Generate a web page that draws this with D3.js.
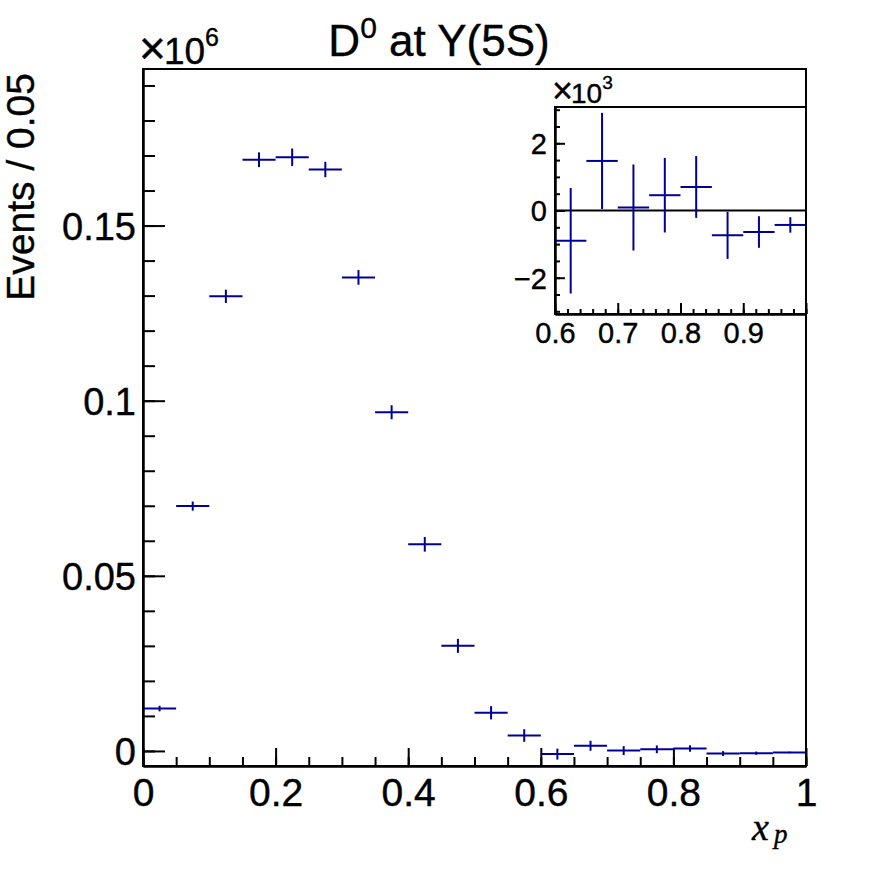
<!DOCTYPE html>
<html>
<head>
<meta charset="utf-8">
<script src="https://cdn.jsdelivr.net/npm/d3@7"></script>
<style>
  body { margin: 0; background: #fff; }
  text { font-family: "Liberation Sans", Arial, sans-serif; fill: #000; stroke: #000; stroke-width: 0.4px; }
  .axis path, .axis line { stroke: #000; stroke-width: 2; }
</style>
</head>
<body>
<script>
// bin centres of x_p (width 0.05)
var binCenters = [0.025, 0.075, 0.125, 0.175, 0.225, 0.275, 0.325, 0.375, 0.425, 0.475,
                  0.525, 0.575, 0.625, 0.675, 0.725, 0.775, 0.825, 0.875, 0.925, 0.975];
// events per bin and their errors
var binValues = [12100, 69900, 129800, 168800, 169500, 166000, 135200, 96700, 59000, 30000,
                 10900, 4400, -900, 1475, 90, 455, 700, -740, -640, -430];
var binErrors = [800, 1300, 1900, 2100, 2500, 2200, 2100, 2000, 2100, 2000,
                 1900, 1800, 1570, 1430, 1280, 1110, 920, 700, 470, 230];
var binWidth = 0.05;

var mainXTicks = [0, 0.2, 0.4, 0.6, 0.8, 1];
var mainYTicks = [0, 50000, 100000, 150000];
var insetXTicks = [0.6, 0.7, 0.8, 0.9];
var insetYTicks = [-2000, 0, 2000];

var data = binCenters.map(function(c, i) {
  return { x: c, y: binValues[i], e: binErrors[i] };
});

var width = 896,
    height = 872;

var svg = d3.select("body").append("svg")
    .attr("width", width)
    .attr("height", height);

var blue = "#000099";

// ---------- main frame ----------
var fx0 = 143, fx1 = 806, fy0 = 69, fy1 = 766;

var x = d3.scaleLinear().domain([0, 1]).range([fx0, fx1]);
var y = d3.scaleLinear().domain([-4300, 194700]).range([fy1, fy0]);

function fmtMain(d) { return d === 0 ? "0" : String(+(d / 1e6).toFixed(2)); }

// minor ticks
svg.append("g")
    .attr("class", "axis")
    .attr("transform", "translate(0," + fy1 + ")")
    .call(d3.axisBottom(x).tickValues(d3.range(0, 1.0001, 0.05)).tickSize(-9).tickSizeOuter(0).tickFormat(""));
svg.append("g")
    .attr("class", "axis")
    .attr("transform", "translate(" + fx0 + ",0)")
    .call(d3.axisLeft(y).tickValues(d3.range(0, 190001, 10000)).tickSize(-12).tickSizeOuter(0).tickFormat(""));

// major ticks + labels
var xAxis = svg.append("g")
    .attr("class", "axis")
    .attr("transform", "translate(0," + fy1 + ")")
    .call(d3.axisBottom(x).tickValues(mainXTicks).tickSize(-18).tickSizeOuter(0).tickPadding(12)
      .tickFormat(function(d) { return String(d); }));
xAxis.selectAll("text").style("font-size", "39px");

var yAxis = svg.append("g")
    .attr("class", "axis")
    .attr("transform", "translate(" + fx0 + ",0)")
    .call(d3.axisLeft(y).tickValues(mainYTicks).tickSize(-22).tickSizeOuter(0).tickPadding(7)
      .tickFormat(fmtMain));
yAxis.selectAll("text").style("font-size", "38px").attr("dy", "0.36em");

svg.selectAll(".axis text").attr("font-family", null);

// data points with error bars
var pts = svg.append("g")
    .attr("stroke", blue)
    .attr("stroke-width", 2)
    .selectAll("g")
    .data(data)
  .enter().append("g");

pts.append("line")
    .attr("x1", function(d) { return x(d.x - binWidth / 2); })
    .attr("x2", function(d) { return x(d.x + binWidth / 2); })
    .attr("y1", function(d) { return y(d.y); })
    .attr("y2", function(d) { return y(d.y); });
pts.append("line")
    .attr("x1", function(d) { return x(d.x); })
    .attr("x2", function(d) { return x(d.x); })
    .attr("y1", function(d) { return y(d.y - d.e); })
    .attr("y2", function(d) { return y(d.y + d.e); });

svg.append("rect")
    .attr("x", fx0).attr("y", fy0)
    .attr("width", fx1 - fx0).attr("height", fy1 - fy0)
    .attr("fill", "none").attr("stroke", "#000").attr("stroke-width", 2);

// exponent label
var expo = svg.append("text").attr("x", 139).attr("y", 63.5).style("font-size", "37px");
expo.append("tspan").style("font-size", "46px").text("\u00d7");
expo.append("tspan").attr("dx", -2).text("10");
expo.append("tspan").attr("dy", -18).style("font-size", "25px").text("6");

// title
var title = svg.append("text")
    .attr("x", 439).attr("y", 56)
    .attr("text-anchor", "middle")
    .style("font-size", "44px");
title.append("tspan").text("D");
title.append("tspan").attr("dy", -18).style("font-size", "30px").text("0");
title.append("tspan").attr("dy", 18).text(" at Y(5S)");

// axis titles
svg.append("text")
    .attr("transform", "translate(34,73) rotate(-90)")
    .attr("text-anchor", "end")
    .style("font-size", "39px")
    .text("Events / 0.05");

var xt = svg.append("text")
    .attr("x", 752).attr("y", 840)
    .style("font-family", "'Liberation Serif', 'Times New Roman', serif")
    .style("font-style", "italic")
    .style("font-size", "38px");
xt.append("tspan").text("x");
xt.append("tspan").attr("dx", 5).attr("dy", 3).style("font-size", "27px").text("p");

// ---------- inset ----------
var ix0 = 555, ix1 = 806, iy0 = 107, iy1 = 314;

var ix = d3.scaleLinear().domain([0.6, 1.0]).range([ix0, ix1]);
var iy = d3.scaleLinear().domain([-3080, 3080]).range([iy1, iy0]);

var inset = svg.append("g");

inset.append("rect")
    .attr("x", ix0).attr("y", iy0)
    .attr("width", ix1 - ix0).attr("height", iy1 - iy0)
    .attr("fill", "#fff");

inset.append("g")
    .attr("class", "axis")
    .attr("transform", "translate(0," + iy1 + ")")
    .call(d3.axisBottom(ix).tickValues(d3.range(0.6, 1.0001, 0.02)).tickSize(-5).tickSizeOuter(0).tickFormat(""));
inset.append("g")
    .attr("class", "axis")
    .attr("transform", "translate(" + ix0 + ",0)")
    .call(d3.axisLeft(iy).tickValues(d3.range(-3000, 3001, 500)).tickSize(-5).tickSizeOuter(0).tickFormat(""));

var ixAxis = inset.append("g")
    .attr("class", "axis")
    .attr("transform", "translate(0," + iy1 + ")")
    .call(d3.axisBottom(ix).tickValues(insetXTicks.concat([1.0])).tickSize(-11).tickSizeOuter(0).tickPadding(8)
      .tickFormat(function(d) { return d === 1 ? "" : d.toFixed(1); }));
ixAxis.selectAll("text").style("font-size", "29px");

var iyAxis = inset.append("g")
    .attr("class", "axis")
    .attr("transform", "translate(" + ix0 + ",0)")
    .call(d3.axisLeft(iy).tickValues(insetYTicks).tickSize(-10).tickSizeOuter(0).tickPadding(8)
      .tickFormat(function(d) { return d < 0 ? "\u2212" + (-d / 1000) : String(d / 1000); }));
iyAxis.selectAll("text").style("font-size", "29px").attr("dy", "0.36em");

inset.selectAll(".axis text").attr("font-family", null);

// zero line
inset.append("line")
    .attr("x1", ix0).attr("x2", ix1)
    .attr("y1", iy(0)).attr("y2", iy(0))
    .attr("stroke", "#000").attr("stroke-width", 2);

var ipts = inset.append("g")
    .attr("stroke", blue)
    .attr("stroke-width", 2)
    .selectAll("g")
    .data(data.filter(function(d) { return d.x > 0.6; }))
  .enter().append("g");

ipts.append("line")
    .attr("x1", function(d) { return ix(d.x - binWidth / 2); })
    .attr("x2", function(d) { return ix(d.x + binWidth / 2); })
    .attr("y1", function(d) { return iy(d.y); })
    .attr("y2", function(d) { return iy(d.y); });
ipts.append("line")
    .attr("x1", function(d) { return ix(d.x); })
    .attr("x2", function(d) { return ix(d.x); })
    .attr("y1", function(d) { return iy(d.y - d.e); })
    .attr("y2", function(d) { return iy(d.y + d.e); });

inset.append("rect")
    .attr("x", ix0).attr("y", iy0)
    .attr("width", ix1 - ix0).attr("height", iy1 - iy0)
    .attr("fill", "none").attr("stroke", "#000").attr("stroke-width", 2);

var iexpo = inset.append("text").attr("x", 552).attr("y", 103).style("font-size", "28px");
iexpo.append("tspan").style("font-size", "36px").text("\u00d7");
iexpo.append("tspan").attr("dx", -2).text("10");
iexpo.append("tspan").attr("dy", -14).style("font-size", "19px").text("3");
</script>
</body>
</html>
